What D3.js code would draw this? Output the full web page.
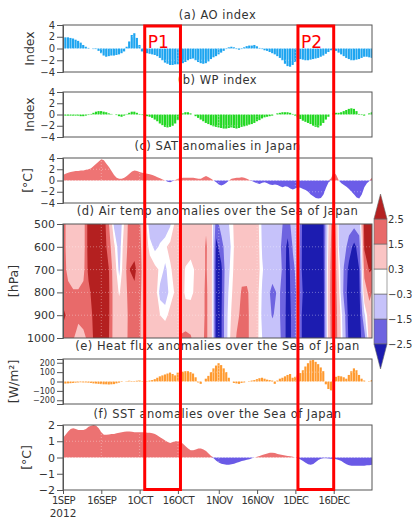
<!DOCTYPE html>
<html>
<head>
<meta charset="utf-8">
<script src="https://cdn.jsdelivr.net/npm/d3@7"></script>
<style>
body { margin: 0; background: #fff; }
text { font-family: "DejaVu Sans", sans-serif; fill: #333; }
</style>
</head>
<body>
<div id="chart"></div>
<script>
//daily values, 1 Sep 2012 .. 31 Dec 2012
var startDate = new Date(2012, 8, 1);
var endDate = new Date(2012, 11, 31);

var aoIndex = [1.8,1.9,1.9,1.8,1.7,1.5,1.3,1.0,0.6,0.3,
    0.1,0.0,-0.1,-0.1,-0.4,-0.8,-1.2,-1.4,-1.3,-1.2,
    -1.2,-1.1,-1.0,-0.8,-0.5,0.3,1.2,2.3,2.6,1.8,
    0.6,-0.5,-0.8,-0.8,-0.9,-1.0,-1.1,-1.3,-1.6,-2.0,
    -2.4,-2.6,-2.8,-2.8,-2.7,-2.7,-2.6,-2.5,-2.3,-2.0,
    -1.8,-1.7,-2.0,-2.3,-2.5,-2.6,-2.5,-2.2,-1.8,-1.5,
    -1.3,-1.0,-0.7,-0.4,-0.1,0.2,0.3,0.2,-0.1,-0.2,
    -0.1,0.2,0.4,0.5,0.5,0.6,0.4,0.1,-0.1,-0.3,
    -0.4,-0.6,-0.8,-1.0,-1.3,-1.6,-2.0,-2.6,-3.0,-3.1,
    -2.8,-2.3,-1.8,-1.8,-1.9,-2.0,-2.0,-1.9,-1.8,-1.7,
    -1.6,-1.4,-1.2,-0.9,-0.6,-0.3,-0.1,-0.4,-0.7,-1.0,
    -1.3,-1.6,-1.8,-2.0,-2.0,-1.9,-1.8,-1.6,-1.4,-1.4,
    -1.5,-1.6];

var wpIndex = [-0.2,-0.2,-0.2,-0.2,-0.2,-0.2,-0.2,-0.3,-0.3,-0.2,
    -0.1,0.1,0.3,0.5,0.6,0.6,0.5,0.4,0.2,0.1,
    0.0,-0.1,-0.3,-0.4,-0.2,0.1,0.3,0.5,0.5,0.3,
    0.1,-0.1,-0.2,-0.3,-0.4,-0.6,-0.9,-1.2,-1.6,-1.9,
    -2.2,-2.3,-2.2,-2.0,-1.6,-1.0,-0.3,0.2,0.4,0.4,
    0.2,0.0,-0.3,-0.6,-0.9,-1.2,-1.5,-1.7,-1.9,-2.1,
    -2.2,-2.3,-2.4,-2.5,-2.5,-2.4,-2.3,-2.4,-2.5,-2.4,
    -2.2,-2.1,-2.0,-1.8,-1.7,-1.5,-1.2,-1.0,-0.7,-0.5,
    -0.4,-0.3,-0.2,0.0,0.2,0.3,0.4,0.4,0.4,0.3,
    0.1,-0.2,-0.5,-0.8,-1.1,-1.3,-1.5,-1.7,-2.0,-2.2,
    -2.3,-2.0,-1.5,-0.9,-0.4,0.0,0.2,0.3,0.3,0.4,
    0.6,0.8,1.0,1.1,1.0,0.6,0.1,-0.1,-0.2,0.0,
    0.2,0.4];

var satAnom = [1.0,1.2,1.4,1.5,1.6,1.7,1.7,1.8,1.8,1.9,
    2.0,2.2,2.6,3.0,3.4,3.8,3.6,3.0,2.4,1.7,
    1.0,0.5,0.3,0.3,0.5,0.8,1.2,1.6,1.8,1.7,
    1.5,1.4,1.3,1.2,1.1,1.0,0.8,0.6,0.4,0.2,
    0.0,-0.2,-0.3,-0.1,0.1,0.3,0.4,0.5,0.5,0.5,
    0.5,0.5,0.4,0.3,0.3,0.6,0.8,0.6,0.3,0.0,
    -0.3,-0.7,-0.9,-0.7,-0.4,0.0,0.3,0.4,0.5,0.5,
    0.6,0.5,0.3,0.1,-0.1,-0.3,-0.5,-0.6,-0.4,-0.3,
    -0.5,-0.7,-0.8,-0.7,-0.8,-1.0,-1.2,-1.0,-1.1,-1.4,
    -1.6,-1.4,-1.2,-1.3,-1.5,-1.7,-2.0,-2.5,-2.8,-3.1,
    -3.2,-3.1,-2.5,-1.3,-0.3,0.4,1.5,1.0,0.0,-0.5,
    -0.8,-1.1,-1.5,-2.0,-2.5,-3.0,-3.2,-2.5,-1.2,-0.5,
    -0.1,0.5];

var heatFlux = [-20,-22,-20,-18,-15,-12,-10,-8,-10,-10,
    -12,-15,-20,-22,-25,-28,-30,-30,-32,-30,
    -28,-20,-12,-5,0,5,8,5,5,8,
    12,5,0,5,10,15,25,40,55,65,
    75,85,95,80,65,95,100,105,110,110,
    100,85,45,-10,-25,0,30,60,100,140,
    170,195,175,140,100,40,0,-15,-20,-25,
    -15,-10,0,5,10,15,25,35,40,30,
    20,15,10,-25,10,30,40,55,70,80,
    40,50,65,90,120,160,195,225,230,210,
    185,150,110,-30,-80,-95,20,50,60,55,
    45,30,70,110,140,120,70,30,10,0,
    5,15];

var sstAnom = [1.2,1.4,1.6,1.75,1.8,1.75,1.7,1.7,1.7,1.75,
    1.9,1.95,2.0,1.95,1.8,1.55,1.4,1.4,1.42,1.45,
    1.45,1.5,1.52,1.55,1.58,1.6,1.6,1.58,1.56,1.55,
    1.55,1.55,1.55,1.53,1.52,1.5,1.45,1.35,1.25,1.15,
    1.05,0.95,0.9,0.95,1.0,1.0,0.95,0.85,0.7,0.55,
    0.45,0.45,0.5,0.55,0.55,0.5,0.4,0.25,0.1,-0.05,
    -0.2,-0.3,-0.38,-0.42,-0.45,-0.45,-0.42,-0.38,-0.32,-0.27,
    -0.22,-0.18,-0.14,-0.1,-0.05,0.0,0.05,0.1,0.15,0.2,
    0.25,0.3,0.3,0.27,0.22,0.18,0.15,0.12,0.1,0.08,
    0.05,0.0,-0.05,-0.12,-0.22,-0.32,-0.42,-0.45,-0.4,-0.28,
    -0.15,-0.08,-0.05,-0.05,-0.06,-0.07,-0.08,-0.1,-0.15,-0.22,
    -0.32,-0.42,-0.48,-0.5,-0.5,-0.5,-0.5,-0.5,-0.5,-0.48,
    -0.47,-0.45];

//air temp anomalies: one column every 2 days (day 0..120), levels 500..1000 hPa
var tempLevels = [500, 600, 700, 800, 900, 1000];
var tempStep = 2;
var tempAnom = [
    [2.0,2.0,2.0,2.0,2.8,2.0],
    [1.0,1.0,1.2,1.8,2.2,1.8],
    [0.8,0.8,0.9,1.6,2.0,1.6],
    [0.8,0.8,0.9,1.6,1.8,1.0],
    [1.0,1.0,1.2,1.8,2.0,1.2],
    [3.0,3.0,2.8,2.2,2.0,1.8],
    [3.0,3.0,3.0,3.0,2.7,2.6],
    [3.2,3.2,3.2,3.2,3.0,3.0],
    [3.0,3.0,3.0,3.0,3.0,3.0],
    [1.5,2.0,2.5,2.6,2.6,2.5],
    [-0.5,0.5,0.9,1.0,1.0,1.0],
    [-1.0,-0.8,-0.5,0.2,0.8,0.9],
    [0.4,0.8,0.9,0.9,0.9,1.0],
    [2.0,2.0,2.5,2.0,1.8,1.8],
    [1.8,2.0,2.8,2.2,2.0,2.0],
    [1.6,1.7,1.8,1.7,1.6,1.6],
    [0.9,1.0,1.0,1.0,1.0,1.0],
    [-0.8,0.0,0.8,0.9,1.0,1.0],
    [-1.0,-0.5,0.5,0.9,0.9,1.0],
    [-0.8,-0.2,0.2,-0.6,0.3,0.9],
    [-1.0,0.2,-0.5,-0.8,0.1,0.9],
    [-0.4,0.5,0.2,0.0,0.5,0.9],
    [0.5,0.9,0.6,0.4,0.8,1.0],
    [0.9,1.0,0.9,0.9,1.0,1.6],
    [1.0,0.9,0.2,0.1,0.8,1.8],
    [1.0,0.8,-0.1,0.0,0.9,1.6],
    [0.9,0.9,0.5,0.6,1.0,1.0],
    [1.0,1.0,1.0,1.0,1.0,1.2],
    [1.4,1.6,1.6,1.7,1.7,1.7],
    [0.8,1.0,0.9,0.9,0.9,0.9],
    [-2.0,-2.8,-3.0,-3.0,-3.0,-3.0],
    [-1.0,-2.0,-2.7,-2.7,-2.6,-2.6],
    [-0.6,-0.8,-0.8,-0.6,-0.5,-0.5],
    [0.0,-0.2,0.0,0.2,0.4,0.6],
    [0.9,0.9,0.9,1.0,1.2,1.6],
    [0.9,1.0,1.2,1.6,1.8,1.8],
    [1.0,0.9,1.0,1.7,1.8,1.8],
    [0.9,0.9,0.9,1.0,1.0,1.0],
    [0.7,0.8,0.8,0.6,0.6,0.5],
    [-0.5,-0.4,-0.2,-0.4,-0.5,-0.3],
    [-0.9,-0.8,-0.8,-1.2,-1.0,-0.8],
    [-0.9,-0.9,-1.0,-1.8,-1.6,-0.9],
    [-1.0,-0.9,-1.0,-1.4,-1.2,-1.0],
    [-1.5,-1.8,-1.6,-1.6,-1.8,-1.8],
    [-2.0,-2.8,-3.0,-3.0,-3.0,-3.0],
    [-1.0,-1.4,-1.8,-2.0,-2.2,-2.2],
    [-0.5,-0.8,-1.0,-1.2,-1.0,-1.0],
    [-3.0,-3.0,-3.0,-2.6,-3.0,-3.0],
    [-3.2,-3.2,-3.2,-3.2,-3.2,-3.2],
    [-3.2,-3.2,-3.2,-3.2,-3.2,-3.2],
    [-3.0,-3.0,-3.0,-3.0,-3.0,-3.0],
    [-2.6,-2.6,-2.7,-2.8,-2.8,-2.8],
    [0.3,0.5,0.8,0.9,0.9,0.8],
    [2.5,2.8,2.8,2.8,2.6,2.6],
    [-0.4,-0.3,0.2,0.5,0.9,1.0],
    [-0.9,-1.0,-1.6,-1.8,-1.0,-0.8],
    [-1.0,-2.0,-2.8,-3.0,-3.0,-2.8],
    [-1.2,-2.8,-3.0,-3.0,-3.0,-3.0],
    [-1.0,-2.0,-2.5,-2.8,-3.0,-2.8],
    [2.8,2.6,1.8,1.0,-0.5,-2.0],
    [3.0,2.8,2.6,1.8,1.0,0.9]
];

//shading levels of panel (d)
var colorBreaks = [-2.5, -1.5, -0.3, 0.3, 1.5, 2.5];
var breakLabels = ["\u22122.5", "\u22121.5", "\u22120.3", "0.3", "1.5", "2.5"];
var bandColors = ["#1c1cb0", "#6e64e0", "#c6c2fa", "#ffffff", "#fac4c4", "#e86a6a", "#b42020"];

//x axis ticks
var dateTicks = [new Date(2012,8,1), new Date(2012,8,16), new Date(2012,9,1), new Date(2012,9,16),
    new Date(2012,10,1), new Date(2012,10,16), new Date(2012,11,1), new Date(2012,11,16)];
var dateLabels = ["1SEP", "16SEP", "1OCT", "16OCT", "1NOV", "16NOV", "1DEC", "16DEC"];

//highlighted periods
var periods = [
    {name: "P1", from: new Date(2012,9,3), to: new Date(2012,9,17)},
    {name: "P2", from: new Date(2012,11,2), to: new Date(2012,11,16)}
];

//svg size and plot edges
var svgWidth = 412;
var svgHeight = 519;
var plotLeft = 63;
var plotRight = 372;

var svg = d3.select("#chart").append("svg")
    .attr("width", svgWidth)
    .attr("height", svgHeight);

var xScale = d3.scaleTime()
    .domain([startDate, endDate])
    .range([plotLeft, plotRight]);

function dayDate(i) {
    return d3.timeDay.offset(startDate, i);
}

var barWidth = (plotRight - plotLeft) / 121;

//draw one panel frame with title, y axis and clip
function makePanel(id, top, bottom, yScale, ticks, tickFont, title, titleY, label, labelX) {
    var g = svg.append("g");

    svg.append("clipPath").attr("id", "clip-" + id)
        .append("rect")
        .attr("x", plotLeft).attr("y", top)
        .attr("width", plotRight - plotLeft).attr("height", bottom - top);

    var plot = g.append("g").attr("clip-path", "url(#clip-" + id + ")");

    g.append("text")
        .attr("x", (plotLeft + plotRight) / 2)
        .attr("y", titleY)
        .attr("text-anchor", "middle")
        .attr("font-size", "11.5px")
        .attr("letter-spacing", "0.5px")
        .text(title);

    g.append("text")
        .attr("transform", `translate(${labelX}, ${(top + bottom) / 2}) rotate(-90)`)
        .attr("text-anchor", "middle")
        .attr("dy", "0.35em")
        .attr("font-size", "12.5px")
        .text(label);

    return {g: g, plot: plot, top: top, bottom: bottom, y: yScale, ticks: ticks, tickFont: tickFont};
}

function finishPanel(p) {
    //faint dotted grid
    var grid = p.g.append("g")
        .attr("stroke", "#fff")
        .attr("stroke-opacity", 0.35)
        .attr("stroke-dasharray", "1,2");
    grid.selectAll(".vg")
        .data(dateTicks.slice(1))
        .enter()
        .append("line")
        .attr("x1", d => xScale(d)).attr("x2", d => xScale(d))
        .attr("y1", p.top).attr("y2", p.bottom);
    grid.selectAll(".hg")
        .data(p.ticks.slice(1, -1))
        .enter()
        .append("line")
        .attr("x1", plotLeft).attr("x2", plotRight)
        .attr("y1", d => p.y(d)).attr("y2", d => p.y(d));

    p.g.append("rect")
        .attr("x", plotLeft).attr("y", p.top)
        .attr("width", plotRight - plotLeft).attr("height", p.bottom - p.top)
        .attr("fill", "none")
        .attr("stroke", "#555")
        .attr("stroke-width", 1);

    var axis = p.g.append("g")
        .attr("transform", `translate(${plotLeft}, 0)`)
        .call(d3.axisLeft(p.y).tickValues(p.ticks).tickSize(6).tickPadding(2).tickFormat(d3.format("d")));
    axis.select(".domain").attr("stroke", "#555");
    axis.selectAll(".tick line").attr("stroke", "#555");
    axis.selectAll("text")
        .attr("font-family", "DejaVu Sans, sans-serif")
        .attr("font-size", p.tickFont)
        .attr("fill", "#333");
}

//bars for index type series
function drawBars(p, values, color) {
    p.plot.selectAll(".bar")
        .data(values)
        .enter()
        .append("rect")
        .attr("x", (d, i) => xScale(dayDate(i)) - barWidth / 2)
        .attr("width", barWidth - 0.4)
        .attr("y", d => p.y(Math.max(d, 0)))
        .attr("height", d => Math.abs(p.y(d) - p.y(0)))
        .attr("fill", color);
}

//filled area split at zero
function drawArea(p, values, posColor, negColor) {
    var pos = d3.area()
        .x((d, i) => xScale(dayDate(i)))
        .y0(p.y(0))
        .y1(d => p.y(Math.max(d, 0)));
    var neg = d3.area()
        .x((d, i) => xScale(dayDate(i)))
        .y0(p.y(0))
        .y1(d => p.y(Math.min(d, 0)));
    p.plot.append("path").datum(values).attr("d", pos).attr("fill", posColor);
    p.plot.append("path").datum(values).attr("d", neg).attr("fill", negColor);
}

//(a) AO index
var yA = d3.scaleLinear().domain([-4, 4]).range([72, 25]);
var pA = makePanel("a", 25, 72, yA, [4, 2, 0, -2, -4], "10px", "(a) AO index", 19, "Index", 30);
drawBars(pA, aoIndex, "#1ea5f0");
finishPanel(pA);

//(b) WP index
var yB = d3.scaleLinear().domain([-4, 4]).range([137, 92]);
var pB = makePanel("b", 92, 137, yB, [4, 2, 0, -2, -4], "10px", "(b) WP index", 84, "Index", 30);
drawBars(pB, wpIndex, "#22d822");
finishPanel(pB);

//(c) SAT anomalies
var yC = d3.scaleLinear().domain([-4, 4]).range([203, 158]);
var pC = makePanel("c", 158, 203, yC, [4, 2, 0, -2, -4], "10px", "(c) SAT anomalies in Japan", 150, "[\u00b0C]", 28);
drawArea(pC, satAnom, "#ee7474", "#6b5ce8");
finishPanel(pC);

//(d) air temp anomalies, shaded contours
var yD = d3.scaleLinear().domain([500, 1000]).range([224, 338]);
var pD = makePanel("d", 224, 338, yD, tempLevels, "11px", "(d) Air temp anomalies over the Sea of Japan", 215, "[hPa]", 14);

var nCols = tempAnom.length;
var nRows = tempLevels.length;
var gridValues = [];
for (var j = 0; j < nRows; j++) {
    for (var i = 0; i < nCols; i++) {
        gridValues.push(tempAnom[i][j]);
    }
}
var gx = d3.scaleLinear().domain([0.5, nCols - 0.5]).range([xScale(dayDate(0)), xScale(dayDate((nCols - 1) * tempStep))]);
var gy = d3.scaleLinear().domain([0.5, nRows - 0.5]).range([yD(tempLevels[0]), yD(tempLevels[nRows - 1])]);
var gridPath = d3.geoPath(d3.geoTransform({
    point: function(x, y) { this.stream.point(gx(x), gy(y)); }
}));
var bands = d3.contours().size([nCols, nRows]).thresholds(colorBreaks)(gridValues);

pD.plot.append("rect")
    .attr("x", plotLeft).attr("y", 224)
    .attr("width", plotRight - plotLeft).attr("height", 338 - 224)
    .attr("fill", bandColors[0]);
pD.plot.selectAll(".band")
    .data(bands)
    .enter()
    .append("path")
    .attr("d", gridPath)
    .attr("fill", (d, i) => bandColors[i + 1]);
finishPanel(pD);

//colorbar
var cbX = 374;
var cbW = 13;
var cbScale = d3.scaleLinear().domain([0, colorBreaks.length - 1]).range([344, 219]);
var cbStep = cbScale(0) - cbScale(1);
var cb = svg.append("g").attr("stroke", "#666").attr("stroke-width", 0.6);
for (var k = 0; k < colorBreaks.length - 1; k++) {
    cb.append("rect")
        .attr("x", cbX).attr("y", cbScale(k + 1))
        .attr("width", cbW).attr("height", cbScale(k) - cbScale(k + 1))
        .attr("fill", bandColors[k + 1]);
}
cb.append("path")
    .attr("d", `M${cbX},${cbScale(0)} L${cbX + cbW},${cbScale(0)} L${cbX + cbW / 2},${cbScale(0) + cbStep} Z`)
    .attr("fill", bandColors[0]);
cb.append("path")
    .attr("d", `M${cbX},${cbScale(5)} L${cbX + cbW},${cbScale(5)} L${cbX + cbW / 2},${cbScale(5) - cbStep} Z`)
    .attr("fill", bandColors[6]);
svg.selectAll(".cblabel")
    .data(breakLabels)
    .enter()
    .append("text")
    .attr("x", cbX + cbW + 1)
    .attr("y", (d, i) => cbScale(i) + 4)
    .attr("font-size", "10px")
    .text(d => d);

//(e) heat flux
var yE = d3.scaleLinear().domain([-240, 240]).range([404, 359]);
var pE = makePanel("e", 359, 404, yE, [200, 100, 0, -100, -200], "8px", "(e) Heat flux anomalies over the Sea of Japan", 350, "[W/m\u00b2]", 14);
drawBars(pE, heatFlux, "#ff9a30");
finishPanel(pE);

//(f) SST anomalies
var yF = d3.scaleLinear().domain([-2, 2]).range([490, 425]);
var pF = makePanel("f", 425, 490, yF, [2, 1, 0, -1, -2], "11px", "(f) SST anomalies over the Sea of Japan", 418, "[\u00b0C]", 27);
drawArea(pF, sstAnom, "#ec7272", "#6a5ae6");
finishPanel(pF);

//date axis under panel f
var xAxis = svg.append("g")
    .attr("transform", "translate(0, 490)")
    .call(d3.axisBottom(xScale).tickValues(dateTicks).tickSize(4).tickFormat((d, i) => dateLabels[i]));
xAxis.select(".domain").remove();
xAxis.selectAll(".tick line").attr("stroke", "#555");
xAxis.selectAll("text")
    .attr("font-family", "DejaVu Sans, sans-serif")
    .attr("font-size", "10px")
    .attr("letter-spacing", "-0.5px")
    .attr("fill", "#333");
svg.append("text")
    .attr("x", xScale(startDate))
    .attr("y", 517)
    .attr("text-anchor", "middle")
    .attr("font-size", "10.5px")
    .text("2012");

//red period boxes
svg.selectAll(".period")
    .data(periods)
    .enter()
    .append("rect")
    .attr("x", d => xScale(d.from))
    .attr("y", 26)
    .attr("width", d => xScale(d.to) - xScale(d.from))
    .attr("height", 489.5 - 26)
    .attr("fill", "none")
    .attr("stroke", "#ff0000")
    .attr("stroke-width", 3);

svg.selectAll(".plabel")
    .data(periods)
    .enter()
    .append("text")
    .attr("x", d => xScale(d.from) + 3)
    .attr("y", 48)
    .attr("font-family", "Liberation Sans, Arial, sans-serif")
    .attr("font-size", "17px")
    .style("fill", "#ff0000")
    .text(d => d.name);
</script>
</body>
</html>
